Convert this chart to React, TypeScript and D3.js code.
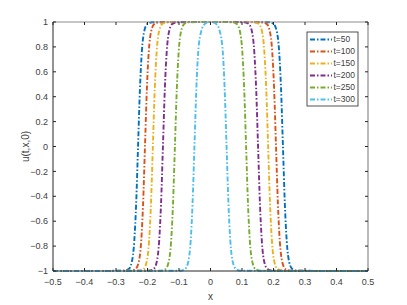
import { useEffect, useRef } from 'react';
import * as d3 from 'd3';

// legend labels + matlab default colours
const seriesNames = ['t=50', 't=100', 't=150', 't=200', 't=250', 't=300'];
const seriesColors = ['#0072BD', '#D95319', '#EDB120', '#7E2F8E', '#77AC30', '#4DBEEE'];

// u values shared by all curves (same front profile)
const uProfile = [-1, -0.998, -0.985, -0.93, -0.76, -0.46, 0, 0.46, 0.76, 0.93, 0.985, 0.998, 1,
    0.998, 0.985, 0.93, 0.76, 0.46, 0, -0.46, -0.76, -0.93, -0.985, -0.998, -1];

// x positions of those u values for each t
const xT50 = [-0.5, -0.275, -0.26, -0.25, -0.242, -0.236, -0.23, -0.224, -0.218, -0.21, -0.2, -0.185, 0,
    0.185, 0.2, 0.21, 0.218, 0.224, 0.23, 0.236, 0.242, 0.25, 0.26, 0.275, 0.5];
const xT100 = [-0.5, -0.253, -0.238, -0.228, -0.22, -0.214, -0.208, -0.202, -0.196, -0.188, -0.178, -0.163, 0,
    0.163, 0.178, 0.188, 0.196, 0.202, 0.208, 0.214, 0.22, 0.228, 0.238, 0.253, 0.5];
const xT150 = [-0.5, -0.228, -0.213, -0.203, -0.195, -0.189, -0.183, -0.177, -0.171, -0.163, -0.153, -0.138, 0,
    0.138, 0.153, 0.163, 0.171, 0.177, 0.183, 0.189, 0.195, 0.203, 0.213, 0.228, 0.5];
const xT200 = [-0.5, -0.196, -0.181, -0.171, -0.163, -0.157, -0.151, -0.145, -0.139, -0.131, -0.121, -0.106, 0,
    0.106, 0.121, 0.131, 0.139, 0.145, 0.151, 0.157, 0.163, 0.171, 0.181, 0.196, 0.5];
const xT250 = [-0.5, -0.158, -0.143, -0.133, -0.125, -0.119, -0.113, -0.107, -0.101, -0.093, -0.083, -0.068, 0,
    0.068, 0.083, 0.093, 0.101, 0.107, 0.113, 0.119, 0.125, 0.133, 0.143, 0.158, 0.5];
const xT300 = [-0.5, -0.096, -0.081, -0.071, -0.063, -0.057, -0.051, -0.045, -0.039, -0.029, -0.018, -0.007, 0,
    0.007, 0.018, 0.029, 0.039, 0.045, 0.051, 0.057, 0.063, 0.071, 0.081, 0.096, 0.5];

const seriesX = [xT50, xT100, xT150, xT200, xT250, xT300];

const xTicks = [-0.5, -0.4, -0.3, -0.2, -0.1, 0, 0.1, 0.2, 0.3, 0.4, 0.5];
const yTicks = [-1, -0.8, -0.6, -0.4, -0.2, 0, 0.2, 0.4, 0.6, 0.8, 1];

const W = 407;
const H = 305;
const margin = { top: 22, right: 39, bottom: 34, left: 53 };

const App = () => {
    const svgRef = useRef<SVGSVGElement>(null);

    useEffect(() => {
        const svg = d3.select(svgRef.current);
        svg.selectAll('*').remove();

        const innerW = W - margin.left - margin.right;
        const innerH = H - margin.top - margin.bottom;

        const x = d3.scaleLinear().domain([-0.5, 0.5]).range([0, innerW]);
        const y = d3.scaleLinear().domain([-1, 1]).range([innerH, 0]);

        const g = svg.append('g').attr('transform', `translate(${margin.left},${margin.top})`);

        const font = 'Liberation Sans, Arial, sans-serif';
        const textColor = '#404040';
        const tickLen = 3;
        const dash = '5,2,1.5,2';

        // curves
        const line = d3.line<[number, number]>()
            .x(d => x(d[0]))
            .y(d => y(d[1]))
            .curve(d3.curveMonotoneX);

        seriesX.forEach((xs, i) => {
            const pts = xs.map((v, j) => [v, uProfile[j]] as [number, number]);
            g.append('path')
                .attr('d', line(pts))
                .attr('fill', 'none')
                .attr('stroke', seriesColors[i])
                .attr('stroke-width', 1.9)
                .attr('stroke-dasharray', dash);
        });

        // box: top + right grey, left + bottom dark
        g.append('line').attr('x1', 0).attr('x2', innerW).attr('y1', 0).attr('y2', 0)
            .attr('stroke', '#8c8c8c').attr('stroke-width', 1);
        g.append('line').attr('x1', innerW).attr('x2', innerW).attr('y1', 0).attr('y2', innerH)
            .attr('stroke', '#8c8c8c').attr('stroke-width', 1.2);
        g.append('line').attr('x1', 0).attr('x2', 0).attr('y1', 0).attr('y2', innerH)
            .attr('stroke', '#262626').attr('stroke-width', 1);
        g.append('line').attr('x1', 0).attr('x2', innerW).attr('y1', innerH).attr('y2', innerH)
            .attr('stroke', '#262626').attr('stroke-width', 1);

        // ticks (inside, mirrored)
        xTicks.forEach(t => {
            g.append('line').attr('x1', x(t)).attr('x2', x(t)).attr('y1', innerH).attr('y2', innerH - tickLen)
                .attr('stroke', '#262626');
            g.append('line').attr('x1', x(t)).attr('x2', x(t)).attr('y1', 0).attr('y2', tickLen)
                .attr('stroke', '#262626');
            g.append('text')
                .attr('x', x(t))
                .attr('y', innerH + 14)
                .attr('text-anchor', 'middle')
                .style('font-family', font)
                .style('font-size', '9px')
                .attr('fill', textColor)
                .text(d3.format('')(t));
        });
        yTicks.forEach(t => {
            g.append('line').attr('x1', 0).attr('x2', tickLen).attr('y1', y(t)).attr('y2', y(t))
                .attr('stroke', '#262626');
            g.append('line').attr('x1', innerW).attr('x2', innerW - tickLen).attr('y1', y(t)).attr('y2', y(t))
                .attr('stroke', '#262626');
            g.append('text')
                .attr('x', -5)
                .attr('y', y(t))
                .attr('dy', '0.35em')
                .attr('text-anchor', 'end')
                .style('font-family', font)
                .style('font-size', '9px')
                .attr('fill', textColor)
                .text(d3.format('')(t));
        });

        // axis labels
        g.append('text')
            .attr('x', innerW / 2)
            .attr('y', innerH + 29)
            .attr('text-anchor', 'middle')
            .style('font-family', font)
            .style('font-size', '10px')
            .attr('fill', textColor)
            .text('x');
        g.append('text')
            .attr('transform', `translate(${25 - margin.left},${innerH / 2}) rotate(-90)`)
            .attr('dy', '0.35em')
            .attr('text-anchor', 'middle')
            .style('font-family', font)
            .style('font-size', '10px')
            .attr('fill', textColor)
            .text('u(t,x,0)');

        // legend
        const legend = svg.append('g').attr('transform', 'translate(307,32)');
        legend.append('rect')
            .attr('width', 51)
            .attr('height', 74)
            .attr('fill', 'white')
            .attr('stroke', '#262626')
            .attr('stroke-width', 0.8);
        seriesNames.forEach((name, i) => {
            const ly = 7.5 + i * 12;
            legend.append('line')
                .attr('x1', 3).attr('x2', 25)
                .attr('y1', ly).attr('y2', ly)
                .attr('stroke', seriesColors[i])
                .attr('stroke-width', 1.9)
                .attr('stroke-dasharray', dash);
            legend.append('text')
                .attr('x', 26.5)
                .attr('y', ly)
                .attr('dy', '0.35em')
                .style('font-family', font)
                .style('font-size', '8.5px')
                .attr('fill', textColor)
                .text(name);
        });
    }, []);

    return (
        <svg
            ref={svgRef}
            width={W}
            height={H}
            style={{ position: 'absolute', left: 0, top: 0, background: 'white' }}
        />
    );
};

export default App;
